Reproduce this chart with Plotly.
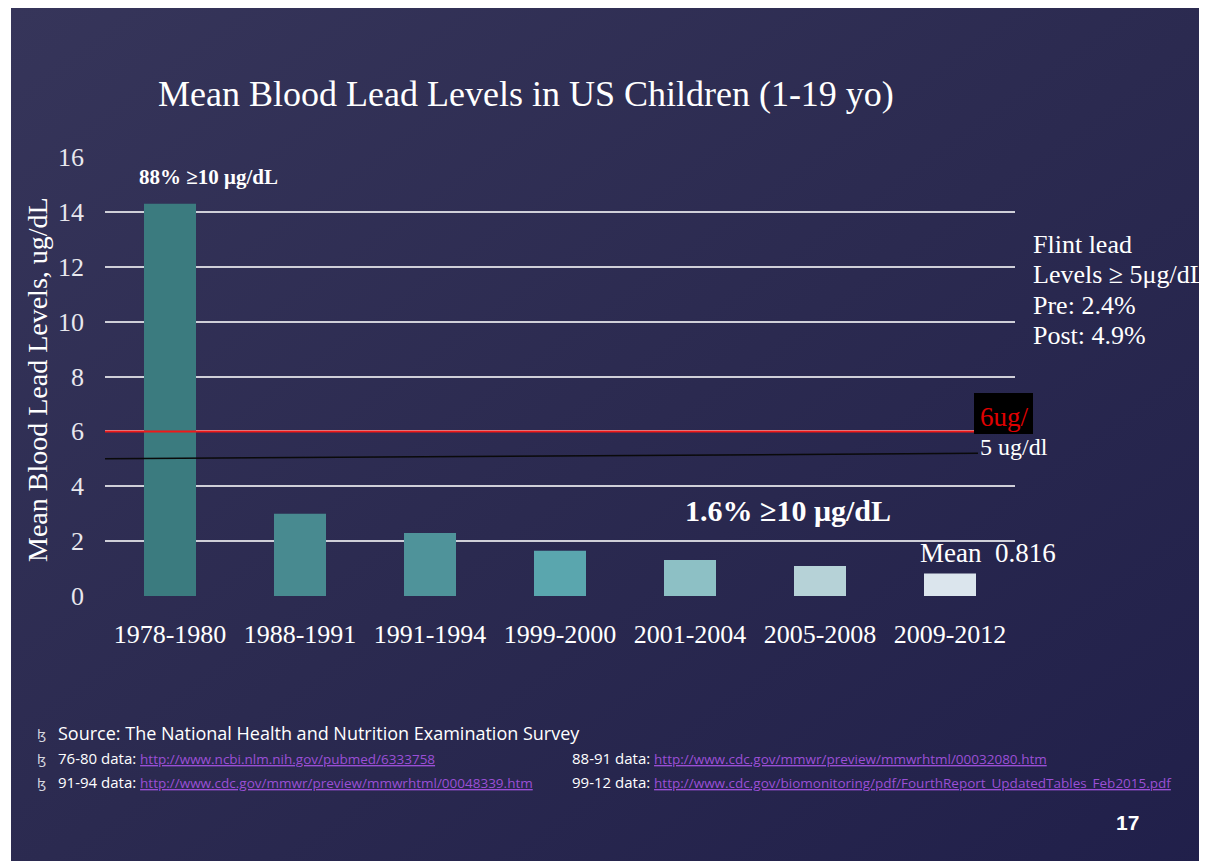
import base64
import plotly.graph_objects as go

periods = ["1978-1980", "1988-1991", "1991-1994", "1999-2000", "2001-2004", "2005-2008", "2009-2012"]
mean_levels = [14.3, 3.0, 2.3, 1.65, 1.31, 1.09, 0.816]
bar_colors = ["#3b7b7f", "#488a90", "#4f939a", "#5aa6ae", "#8dc0c5", "#b6d2d7", "#dbe5ed"]
y_ticks = [0, 2, 4, 6, 8, 10, 12, 14, 16]
flint_line = 6
ref_line = [5.0, 5.2]

OFF = 8  # page body margin
W, H = 1207 + 2 * OFF, 861 + 2 * OFF
L, R, T, B = 105 - OFF, 1015 - OFF, 157 - OFF, 596 - OFF

def xp(px):
    return (px - OFF - L) / (R - L)

def yp(py):
    return (B - (py - OFF)) / (B - T)

SERIF = "Liberation Serif"
SANS = "Liberation Sans Narrow, Open Sans, sans-serif"

svg = ("<svg xmlns='http://www.w3.org/2000/svg' width='100' height='100' preserveAspectRatio='none'>"
       "<defs><linearGradient id='g' x1='0' y1='0' x2='1' y2='1'>"
       "<stop offset='0' stop-color='#36355a'/><stop offset='0.5' stop-color='#2b2a50'/>"
       "<stop offset='1' stop-color='#201f4a'/></linearGradient></defs>"
       "<rect width='100' height='100' fill='url(#g)'/></svg>")
bg_src = "data:image/svg+xml;base64," + base64.b64encode(svg.encode()).decode()

fig = go.Figure()
fig.add_trace(go.Bar(
    x=periods, y=mean_levels,
    marker=dict(color=bar_colors, line=dict(width=0)),
    width=0.4, hoverinfo="x+y", showlegend=False,
))

shapes = [
    dict(type="line", xref="paper", yref="y", x0=0, x1=xp(975), y0=flint_line, y1=flint_line,
         line=dict(color="#f01818", width=2), layer="above"),
    dict(type="line", xref="paper", yref="y", x0=0, x1=xp(978), y0=ref_line[0], y1=ref_line[1],
         line=dict(color="#0a0a0a", width=1.5), layer="above"),
    dict(type="rect", xref="paper", yref="paper", x0=xp(974), x1=xp(1033), y0=yp(434), y1=yp(393),
         fillcolor="black", line=dict(width=0), layer="above"),
    dict(type="rect", xref="paper", yref="paper", x0=xp(0), x1=xp(11), y0=yp(0), y1=yp(H),
         fillcolor="white", line=dict(width=0), layer="above"),
]

ann = []
def text(px, py, s, size, font=SERIF, color="white", xanchor="left", yanchor="middle", angle=0, bold=False):
    if bold:
        s = "<b>" + s + "</b>"
    ann.append(dict(xref="paper", yref="paper", x=xp(px), y=yp(py), text=s, showarrow=False,
                    font=dict(family=font, size=size, color=color), xanchor=xanchor,
                    yanchor=yanchor, textangle=angle))

text(526, 94, "Mean Blood Lead Levels in US Children (1-19 yo)", 36, xanchor="center")
text(37, 380, "Mean Blood Lead Levels, ug/dL", 28, xanchor="center", angle=-90)
text(137, 177, "88% ≥10 μg/dL", 21, bold=True)
text(683, 510, "1.6% ≥10 μg/dL", 30, bold=True)
text(918, 553, "Mean  0.816", 27)
for i, line in enumerate(["Flint lead", "Levels ≥ 5μg/dL", "Pre: 2.4%", "Post: 4.9%"]):
    text(1031, 244 + i * 30.5, line, 26)
text(1004, 417, "6ug/", 27, color="#e00000", xanchor="center")
text(978, 447, "5 ug/dl", 24)
text(1127, 822, "17", 21, font="Liberation Sans", xanchor="center", bold=True)

BUL = "ɮ"
link = "#9b4fd6"
for yy in (734, 759, 783):
    text(35, yy, BUL, 13, font="DejaVu Sans", color="#d8d8e0")
text(56, 733, "Source: The National Health and Nutrition Examination Survey", 18, font=SANS)
row = "%s data: <span style='font-size:13.5px;color:%s'><u>%s</u></span>"
text(56, 758, row % ("76-80", link, "http://www.ncbi.nlm.nih.gov/pubmed/6333758"), 15, font=SANS)
text(56, 782, row % ("91-94", link, "http://www.cdc.gov/mmwr/preview/mmwrhtml/00048339.htm"), 15, font=SANS)
text(570, 758, row % ("88-91", link, "http://www.cdc.gov/mmwr/preview/mmwrhtml/00032080.htm"), 15, font=SANS)
text(570, 782, row % ("99-12", link, "http://www.cdc.gov/biomonitoring/pdf/FourthReport_UpdatedTables_Feb2015.pdf"), 15, font=SANS)

fig.update_layout(
    width=W, height=H,
    margin=dict(l=L, r=W - R, t=T, b=H - B, pad=0),
    paper_bgcolor="#2b2a50",
    plot_bgcolor="rgba(0,0,0,0)",
    images=[dict(source=bg_src, xref="paper", yref="paper", x=xp(OFF), y=yp(OFF),
                 sizex=xp(OFF + W) - xp(OFF), sizey=yp(OFF) - yp(OFF + H),
                 xanchor="left", yanchor="top", sizing="stretch", layer="below")],
    shapes=shapes,
    annotations=ann,
    bargap=0.6,
    xaxis=dict(
        tickfont=dict(family=SERIF, size=26, color="white"),
        showgrid=False, zeroline=False, showline=False, ticks="",
        ticklabelstandoff=20, fixedrange=True,
    ),
    yaxis=dict(
        range=[0, 16], tickvals=y_ticks,
        tickfont=dict(family=SERIF, size=26, color="#e8e8ee"),
        showgrid=True, gridcolor="#cfcfd8", gridwidth=1.5,
        zeroline=False, showline=False, ticks="", ticklabelstandoff=20,
    ),
    font=dict(family=SERIF, color="white"),
)

fig.write_html("out.html")
